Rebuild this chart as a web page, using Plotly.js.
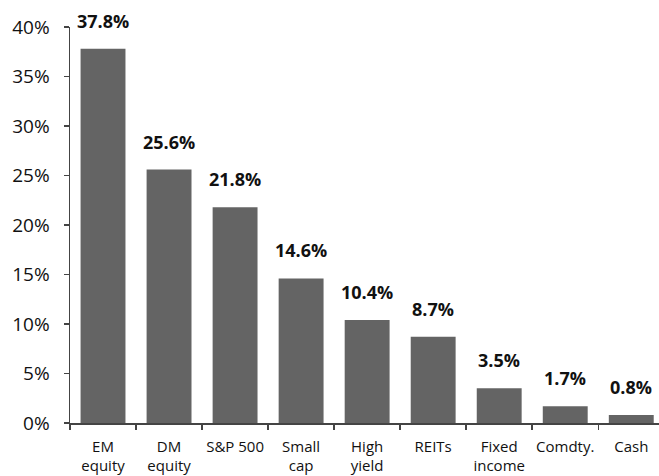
<!DOCTYPE html>
<html><head><meta charset="utf-8">
<script src="https://cdn.plot.ly/plotly-3.0.1.min.js"></script>
<style>html,body{margin:0;padding:0;background:#fff}#chart{width:659px;height:476px}</style>
</head><body><div id="chart"></div>
<script>
const categories = ["EM<br>equity","DM<br>equity","S&P 500","Small<br>cap","High<br>yield","REITs","Fixed<br>income","Comdty.","Cash"];
const values = [37.8, 25.6, 21.8, 14.6, 10.4, 8.7, 3.5, 1.7, 0.8];
const valueLabels = ["37.8%","25.6%","21.8%","14.6%","10.4%","8.7%","3.5%","1.7%","0.8%"];
const yTickVals = [0,5,10,15,20,25,30,35,40];
const yTickText = ["0%","5%","10%","15%","20%","25%","30%","35%","40%"];

const font = "Open Sans, Noto Sans, sans-serif";
const trace = {
  type: "bar", x: categories, y: values, width: 0.68,
  marker: {color: "#646464", line: {width: 0}},
  hoverinfo: "none"
};
const annotations = categories.map((c, i) => ({
  x: c, y: values[i], xref: "x", yref: "y", text: "<b>" + valueLabels[i] + "</b>",
  showarrow: false, yanchor: "bottom", yshift: 14,
  font: {family: font, size: 18, color: "#111"}
}));
const layout = {
  width: 659, height: 476,
  margin: {l: 70, r: 0, t: 27, b: 53},
  paper_bgcolor: "#fff", plot_bgcolor: "#fff",
  showlegend: false,
  bargap: 0.32,
  xaxis: {
    type: "category", range: [-0.5, 8.42],
    tickson: "boundaries", ticks: "outside", ticklen: 5, tickwidth: 1.5, tickcolor: "#444",
    showline: true, linecolor: "#444", linewidth: 1.5,
    tickfont: {family: font, size: 15, color: "#111"},
    tickangle: 0, ticklabelstandoff: 9,
    showgrid: false, zeroline: false, fixedrange: true
  },
  yaxis: {
    range: [0, 40], tickvals: yTickVals, ticktext: yTickText,
    ticks: "outside", ticklen: 5, tickwidth: 1.5, tickcolor: "#444",
    showline: true, linecolor: "#444", linewidth: 1.5,
    tickfont: {family: font, size: 19, color: "#111"},
    ticklabelstandoff: 10,
    showgrid: false, zeroline: false, fixedrange: true
  },
  annotations: annotations
};
Plotly.newPlot("chart", [trace], layout, {displayModeBar: false, staticPlot: true});
</script></body></html>
